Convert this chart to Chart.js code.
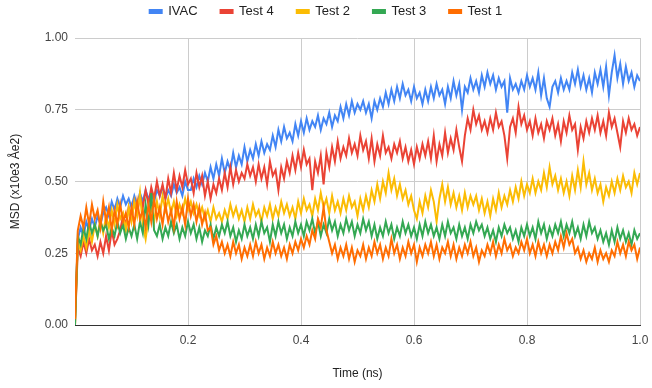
<!DOCTYPE html>
<html>
<head>
<meta charset="utf-8">
<script src="https://cdn.jsdelivr.net/npm/chart.js@4.4.0/dist/chart.umd.min.js"></script>
<style>
  html, body { margin: 0; padding: 0; background: #fff; }
  #wrap { width: 652px; height: 388px; }
</style>
</head>
<body>
<div id="wrap"><canvas id="msdChart" width="652" height="388"></canvas></div>
<script>
// samples every 0.005 ns, 0 .. 1.0 ns
const STEP = 0.005;
const times = Array.from({ length: 201 }, (_, i) => +(i * STEP).toFixed(3));

const xTicks = [0.2, 0.4, 0.6, 0.8, 1.0];
const yTicks = [0, 0.25, 0.5, 0.75, 1.0];

const ivac = [
  0.02, 0.30, 0.34, 0.31, 0.36, 0.33, 0.37, 0.34, 0.38, 0.35, 0.39, 0.41, 0.38, 0.43, 0.40, 0.44, 0.41, 0.45, 0.42, 0.44, 0.41,
  0.45, 0.42, 0.46, 0.43, 0.47, 0.44, 0.46, 0.43, 0.47, 0.45, 0.48, 0.44, 0.47, 0.45, 0.49, 0.46, 0.48, 0.45, 0.50, 0.47,
  0.47, 0.51, 0.48, 0.52, 0.49, 0.53, 0.50, 0.55, 0.51, 0.56, 0.52, 0.58, 0.53, 0.57, 0.54, 0.60, 0.55, 0.59, 0.56, 0.62,
  0.57, 0.61, 0.58, 0.63, 0.59, 0.64, 0.60, 0.63, 0.61, 0.66, 0.62, 0.68, 0.64, 0.69, 0.65, 0.67, 0.64, 0.70, 0.66, 0.71,
  0.67, 0.72, 0.68, 0.71, 0.69, 0.73, 0.68, 0.72, 0.70, 0.74, 0.69, 0.73, 0.71, 0.76, 0.72, 0.77, 0.73, 0.78, 0.74, 0.77,
  0.75, 0.78, 0.74, 0.77, 0.72, 0.78, 0.75, 0.79, 0.76, 0.81, 0.77, 0.82, 0.78, 0.83, 0.79, 0.84, 0.80, 0.82, 0.78, 0.83,
  0.79, 0.81, 0.77, 0.82, 0.78, 0.83, 0.79, 0.84, 0.80, 0.82, 0.77, 0.83, 0.79, 0.85, 0.80, 0.84, 0.75, 0.83, 0.81, 0.86,
  0.82, 0.85, 0.81, 0.87, 0.83, 0.88, 0.84, 0.87, 0.82, 0.86, 0.83, 0.85, 0.74, 0.86, 0.82, 0.84, 0.81, 0.85, 0.82, 0.87,
  0.83, 0.86, 0.82, 0.88, 0.80, 0.86, 0.79, 0.76, 0.83, 0.85, 0.81, 0.86, 0.82, 0.85, 0.82, 0.88, 0.84, 0.89, 0.83, 0.87,
  0.82, 0.86, 0.81, 0.88, 0.84, 0.89, 0.83, 0.90, 0.80, 0.88, 0.94, 0.86, 0.91, 0.84, 0.90, 0.85, 0.88, 0.83, 0.87, 0.85
];

const test4 = [
  0.00, 0.27, 0.24, 0.29, 0.25, 0.30, 0.26, 0.28, 0.24, 0.29, 0.25, 0.31, 0.26, 0.33, 0.28, 0.30, 0.33, 0.38, 0.35, 0.41, 0.37,
  0.43, 0.39, 0.45, 0.41, 0.47, 0.42, 0.48, 0.44, 0.50, 0.45, 0.49, 0.44, 0.51, 0.46, 0.53, 0.47, 0.52, 0.48, 0.54, 0.49,
  0.51, 0.46, 0.53, 0.48, 0.52, 0.45, 0.50, 0.44, 0.49, 0.46, 0.51, 0.47, 0.53, 0.48, 0.55, 0.49, 0.54, 0.50, 0.53, 0.51,
  0.56, 0.52, 0.55, 0.50, 0.56, 0.51, 0.55, 0.49, 0.57, 0.52, 0.54, 0.47, 0.55, 0.51, 0.57, 0.53, 0.59, 0.54, 0.60, 0.55,
  0.61, 0.56, 0.58, 0.47, 0.57, 0.53, 0.59, 0.49, 0.60, 0.55, 0.62, 0.57, 0.64, 0.58, 0.62, 0.59, 0.65, 0.60, 0.63, 0.59,
  0.66, 0.61, 0.64, 0.58, 0.65, 0.57, 0.63, 0.59, 0.66, 0.60, 0.62, 0.58, 0.63, 0.60, 0.64, 0.58, 0.62, 0.57, 0.61, 0.56,
  0.62, 0.58, 0.63, 0.59, 0.64, 0.58, 0.66, 0.57, 0.63, 0.59, 0.67, 0.60, 0.65, 0.61, 0.68, 0.62, 0.57, 0.66, 0.72, 0.68,
  0.75, 0.70, 0.73, 0.68, 0.71, 0.67, 0.72, 0.68, 0.74, 0.69, 0.71, 0.66, 0.58, 0.69, 0.72, 0.67, 0.76, 0.70, 0.73, 0.68,
  0.71, 0.66, 0.72, 0.67, 0.70, 0.65, 0.71, 0.68, 0.72, 0.66, 0.70, 0.64, 0.71, 0.67, 0.73, 0.68, 0.70, 0.61, 0.69, 0.65,
  0.71, 0.67, 0.72, 0.68, 0.73, 0.67, 0.71, 0.66, 0.74, 0.69, 0.72, 0.67, 0.62, 0.71, 0.67, 0.72, 0.68, 0.70, 0.66, 0.69
];

const test2 = [
  0.00, 0.29, 0.26, 0.31, 0.27, 0.33, 0.29, 0.35, 0.31, 0.37, 0.32, 0.38, 0.34, 0.40, 0.35, 0.42, 0.37, 0.39, 0.33, 0.41, 0.36,
  0.43, 0.38, 0.46, 0.35, 0.30, 0.37, 0.41, 0.36, 0.43, 0.38, 0.45, 0.40, 0.44, 0.39, 0.43, 0.38, 0.42, 0.39, 0.44, 0.40,
  0.43, 0.39, 0.42, 0.38, 0.41, 0.37, 0.40, 0.36, 0.41, 0.37, 0.39, 0.36, 0.40, 0.37, 0.42, 0.38, 0.41, 0.37, 0.40, 0.36,
  0.41, 0.37, 0.42, 0.38, 0.40, 0.36, 0.41, 0.38, 0.42, 0.37, 0.41, 0.38, 0.43, 0.39, 0.42, 0.38, 0.41, 0.37, 0.43, 0.39,
  0.44, 0.40, 0.42, 0.38, 0.44, 0.40, 0.46, 0.41, 0.44, 0.39, 0.45, 0.40, 0.43, 0.39, 0.44, 0.40, 0.45, 0.41, 0.43, 0.38,
  0.44, 0.40, 0.45, 0.41, 0.47, 0.43, 0.49, 0.44, 0.50, 0.46, 0.53, 0.47, 0.51, 0.45, 0.49, 0.44, 0.47, 0.42, 0.45, 0.40,
  0.37, 0.43, 0.39, 0.45, 0.41, 0.47, 0.43, 0.36, 0.44, 0.49, 0.43, 0.48, 0.42, 0.46, 0.41, 0.45, 0.40, 0.46, 0.41, 0.45,
  0.42, 0.45, 0.40, 0.44, 0.39, 0.43, 0.38, 0.44, 0.40, 0.46, 0.41, 0.45, 0.42, 0.47, 0.43, 0.48, 0.44, 0.50, 0.45, 0.49,
  0.46, 0.51, 0.46, 0.50, 0.47, 0.53, 0.48, 0.55, 0.49, 0.52, 0.47, 0.51, 0.46, 0.50, 0.45, 0.52, 0.47, 0.54, 0.48, 0.57,
  0.49, 0.53, 0.47, 0.51, 0.46, 0.49, 0.43, 0.48, 0.45, 0.50, 0.46, 0.51, 0.47, 0.52, 0.48, 0.50, 0.46, 0.53, 0.49, 0.53
];

const test3 = [
  0.00, 0.31, 0.28, 0.34, 0.30, 0.36, 0.32, 0.35, 0.31, 0.36, 0.33, 0.35, 0.30, 0.34, 0.31, 0.36, 0.32, 0.35, 0.30, 0.34, 0.31,
  0.35, 0.30, 0.36, 0.32, 0.42, 0.35, 0.46, 0.33, 0.31, 0.35, 0.30, 0.34, 0.31, 0.36, 0.32, 0.35, 0.30, 0.34, 0.31, 0.36,
  0.32, 0.35, 0.30, 0.34, 0.29, 0.33, 0.31, 0.35, 0.30, 0.34, 0.31, 0.35, 0.32, 0.36, 0.31, 0.34, 0.29, 0.33, 0.30, 0.35,
  0.31, 0.34, 0.30, 0.35, 0.31, 0.36, 0.32, 0.34, 0.29, 0.35, 0.31, 0.36, 0.32, 0.35, 0.30, 0.34, 0.31, 0.36, 0.32, 0.35,
  0.31, 0.36, 0.33, 0.37, 0.32, 0.36, 0.31, 0.35, 0.32, 0.37, 0.33, 0.36, 0.31, 0.35, 0.32, 0.37, 0.33, 0.36, 0.31, 0.35,
  0.32, 0.37, 0.33, 0.36, 0.31, 0.35, 0.30, 0.34, 0.31, 0.36, 0.32, 0.35, 0.30, 0.34, 0.31, 0.36, 0.32, 0.35, 0.31, 0.34,
  0.30, 0.35, 0.31, 0.36, 0.32, 0.35, 0.31, 0.34, 0.30, 0.35, 0.31, 0.36, 0.32, 0.34, 0.30, 0.35, 0.31, 0.34, 0.30, 0.35,
  0.32, 0.36, 0.33, 0.35, 0.31, 0.34, 0.30, 0.33, 0.29, 0.34, 0.31, 0.35, 0.32, 0.34, 0.30, 0.33, 0.29, 0.34, 0.31, 0.35,
  0.31, 0.34, 0.30, 0.36, 0.32, 0.35, 0.30, 0.34, 0.31, 0.35, 0.32, 0.36, 0.31, 0.35, 0.32, 0.36, 0.31, 0.34, 0.30, 0.35,
  0.31, 0.36, 0.32, 0.34, 0.30, 0.33, 0.29, 0.32, 0.28, 0.33, 0.29, 0.34, 0.30, 0.33, 0.29, 0.32, 0.28, 0.33, 0.30, 0.32
];

const test1 = [
  0.02, 0.33, 0.38, 0.34, 0.41, 0.35, 0.42, 0.37, 0.40, 0.34, 0.43, 0.36, 0.41, 0.33, 0.40, 0.35, 0.42, 0.36, 0.39, 0.34, 0.41,
  0.35, 0.43, 0.37, 0.40, 0.34, 0.42, 0.36, 0.44, 0.37, 0.41, 0.35, 0.42, 0.36, 0.40, 0.34, 0.43, 0.37, 0.41, 0.35, 0.44,
  0.38, 0.42, 0.36, 0.41, 0.35, 0.39, 0.33, 0.34, 0.28, 0.31, 0.26, 0.29, 0.25, 0.28, 0.24, 0.29, 0.25, 0.28, 0.23, 0.27,
  0.24, 0.28, 0.24, 0.29, 0.25, 0.28, 0.23, 0.27, 0.24, 0.29, 0.25, 0.28, 0.24, 0.27, 0.23, 0.28, 0.25, 0.29, 0.26, 0.30,
  0.27, 0.31, 0.28, 0.33, 0.30, 0.37, 0.34, 0.41, 0.33, 0.29, 0.25, 0.28, 0.23, 0.27, 0.24, 0.28, 0.23, 0.27, 0.22, 0.26,
  0.24, 0.28, 0.23, 0.27, 0.24, 0.29, 0.25, 0.28, 0.23, 0.27, 0.24, 0.30, 0.25, 0.28, 0.23, 0.27, 0.24, 0.29, 0.25, 0.28,
  0.22, 0.27, 0.24, 0.28, 0.25, 0.29, 0.24, 0.28, 0.23, 0.27, 0.25, 0.29, 0.24, 0.28, 0.23, 0.27, 0.24, 0.28, 0.25, 0.29,
  0.24, 0.27, 0.22, 0.26, 0.24, 0.28, 0.25, 0.29, 0.24, 0.28, 0.25, 0.30, 0.26, 0.28, 0.24, 0.27, 0.25, 0.29, 0.26, 0.30,
  0.25, 0.28, 0.24, 0.29, 0.25, 0.28, 0.24, 0.28, 0.25, 0.29, 0.26, 0.31, 0.27, 0.32, 0.28, 0.30, 0.25, 0.27, 0.23, 0.26,
  0.22, 0.25, 0.23, 0.27, 0.22, 0.26, 0.23, 0.25, 0.22, 0.26, 0.24, 0.29, 0.25, 0.28, 0.24, 0.29, 0.26, 0.28, 0.23, 0.27
];

const seriesNames = ['IVAC', 'Test 4', 'Test 2', 'Test 3', 'Test 1'];
const seriesValues = [ivac, test4, test2, test3, test1];
const seriesColors = ['#4285F4', '#EA4335', '#FBBC04', '#34A853', '#FF6D01'];

const toPoints = vals => vals.map((v, i) => ({ x: times[i], y: v }));

Chart.defaults.font.family = 'Arial, "Liberation Sans", sans-serif';
Chart.defaults.color = '#444';

const LAYOUT_TOP = -18;

// make the legend box reach down to where the plot should start
const legendHeight = {
  id: 'legendHeight',
  beforeInit(chart) {
    const fit = chart.legend.fit;
    chart.legend.fit = function () {
      fit.call(this);
      this.height = 38 - LAYOUT_TOP;
    };
  }
};

new Chart(document.getElementById('msdChart').getContext('2d'), {
  type: 'line',
  plugins: [legendHeight],
  data: {
    datasets: seriesNames.map((name, k) => ({
      label: name,
      data: toPoints(seriesValues[k]),
      borderColor: seriesColors[k],
      backgroundColor: seriesColors[k],
      borderWidth: 2,
      pointRadius: 0,
      tension: 0,
      // later series sit on top, like the original
      order: seriesNames.length - k
    }))
  },
  options: {
    responsive: false,
    animation: false,
    events: [],
    layout: { padding: { top: LAYOUT_TOP, right: 0, left: 0, bottom: 0 } },
    plugins: {
      tooltip: { enabled: false },
      legend: {
        position: 'top',
        labels: {
          boxWidth: 12,
          boxHeight: 3,
          padding: 23,
          color: '#222',
          font: { size: 13 },
          sort: (a, b) => a.datasetIndex - b.datasetIndex
        }
      }
    },
    scales: {
      x: {
        type: 'linear',
        min: 0,
        max: 1,
        afterFit: s => { s.height = 63; s.paddingRight = 12; s.paddingLeft = 0; },
        afterBuildTicks: s => { s.ticks = [0].concat(xTicks).map(v => ({ value: v })); },
        grid: {
          color: c => (c.tick && c.tick.value === 0 ? 'rgba(0,0,0,0)' : '#cccccc'),
          drawTicks: false
        },
        border: { color: '#333333', width: 1 },
        ticks: {
          padding: 8,
          font: { size: 12 },
          callback: v => (v === 0 ? '' : v.toFixed(1))
        },
        title: {
          display: true,
          text: 'Time (ns)',
          color: '#222',
          font: { size: 12 },
          padding: { top: 0, bottom: 7 }
        }
      },
      y: {
        min: 0,
        max: 1,
        afterFit: s => { s.width = 75; },
        afterBuildTicks: s => { s.ticks = yTicks.map(v => ({ value: v })); },
        grid: { color: '#cccccc', drawTicks: false },
        border: { display: false },
        ticks: {
          padding: 7,
          font: { size: 12 },
          callback: v => v.toFixed(2)
        },
        title: {
          display: true,
          text: 'MSD (x10e3 Åe2)',
          color: '#222',
          font: { size: 12 },
          padding: { top: 8, bottom: 0 }
        }
      }
    }
  }
});
</script>
</body>
</html>
